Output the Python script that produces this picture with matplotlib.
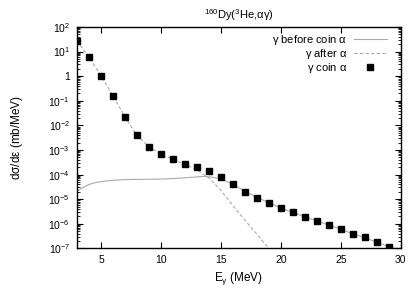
import numpy as np
import matplotlib.pyplot as plt
from matplotlib.ticker import FixedLocator, FuncFormatter, LogLocator, NullFormatter

plt.rcParams['font.family'] = ['Liberation Sans', 'DejaVu Sans']
plt.rcParams['mathtext.fontset'] = 'custom'
plt.rcParams['mathtext.rm'] = 'Liberation Sans'
plt.rcParams['mathtext.it'] = 'Liberation Sans'

# gamma coincident with alpha (squares)
e_coin = [3, 4, 5, 6, 7, 8, 9, 10, 11, 12, 13, 14, 15, 16, 17, 18, 19, 20,
          21, 22, 23, 24, 25, 26, 27, 28, 29]
s_coin = [27, 5.9, 1.05, 0.16, 0.022, 3.9e-3, 1.35e-3, 6.8e-4, 4.3e-4, 2.8e-4,
          2.1e-4, 1.4e-4, 7.7e-5, 4.0e-5, 2.0e-5, 1.15e-5, 7.2e-6, 4.3e-6,
          2.9e-6, 1.95e-6, 1.3e-6, 9.0e-7, 6.0e-7, 4.0e-7, 2.8e-7, 1.9e-7, 1.2e-7]

# gamma before coincidence alpha (solid)
e_before = [3, 3.5, 4, 4.5, 5, 6, 7, 8, 9, 10, 11, 12, 13, 13.5, 14, 15, 16, 17,
            18, 19, 20, 21, 22, 23, 24, 25, 26, 27, 28, 29, 30]
s_before = [2.1e-5, 3.0e-5, 4.0e-5, 4.7e-5, 5.2e-5, 5.9e-5, 6.3e-5, 6.4e-5, 6.5e-5,
            6.6e-5, 6.9e-5, 7.4e-5, 8.1e-5, 8.5e-5, 8.2e-5, 6.8e-5, 4.0e-5, 2.1e-5,
            1.2e-5, 7.2e-6, 4.4e-6, 2.9e-6, 1.95e-6, 1.3e-6, 9.0e-7, 6.0e-7, 4.0e-7,
            2.7e-7, 1.8e-7, 1.2e-7, 8.0e-8]

# gamma after alpha (dashed)
e_after = [3, 4, 5, 6, 7, 8, 9, 10, 11, 12, 13, 14, 15, 16, 17, 18, 19, 19.3]
s_after = [27, 5.9, 1.05, 0.16, 0.022, 3.9e-3, 1.35e-3, 6.8e-4, 4.1e-4, 2.6e-4,
           1.55e-4, 7.3e-5, 2.3e-5, 5.5e-6, 1.4e-6, 3.8e-7, 1.0e-7, 7e-8]

fig = plt.figure(figsize=(4.15, 2.93), dpi=100)
ax = fig.add_axes([0.1855, 0.152, 0.7805, 0.756])

ax.plot(e_before, s_before, color='#aaaaaa', lw=0.8, label=r'$\gamma$ before coin $\alpha$')
ax.plot(e_after, s_after, color='#aaaaaa', lw=0.8, ls=(0, (3, 2)), label=r'$\gamma$ after $\alpha$')
ax.plot(e_coin, s_coin, 's', color='black', ms=5, label=r'$\gamma$ coin $\alpha$')

ax.set_yscale('log')
ax.set_xlim(3, 30)
ax.set_ylim(1e-7, 1e2)
ax.xaxis.set_major_locator(FixedLocator([5, 10, 15, 20, 25, 30]))
ax.yaxis.set_major_locator(LogLocator(base=10, numticks=20))
ax.yaxis.set_minor_locator(LogLocator(base=10, subs=np.arange(2, 10), numticks=20))
ax.yaxis.set_minor_formatter(NullFormatter())


def fmt(v, pos):
    k = int(round(np.log10(v)))
    if k == 0:
        return '1'
    return r'$10^{%d}$' % k


ax.yaxis.set_major_formatter(FuncFormatter(fmt))
ax.tick_params(which='both', direction='in', top=True, right=True, labelsize=7.5)
ax.tick_params(which='major', length=4, pad=5)
ax.tick_params(which='minor', length=2)
for sp in ax.spines.values():
    sp.set_linewidth(1.0)

ax.set_xlabel(r'E$_\gamma$ (MeV)', fontsize=8.5, labelpad=3)
ax.set_ylabel(r'd$\sigma$/d$\varepsilon$ (mb/MeV)', fontsize=8.5, labelpad=17)
ax.set_title(r'$^{160}$Dy($^3$He,$\alpha\gamma$)', fontsize=8, pad=6)

ax.legend(loc='upper right', bbox_to_anchor=(0.971, 0.995), borderaxespad=0,
          frameon=False, fontsize=8, markerfirst=False,
          handlelength=3, labelspacing=0.0, handletextpad=0.6)

fig.savefig('out.png', dpi=100)
